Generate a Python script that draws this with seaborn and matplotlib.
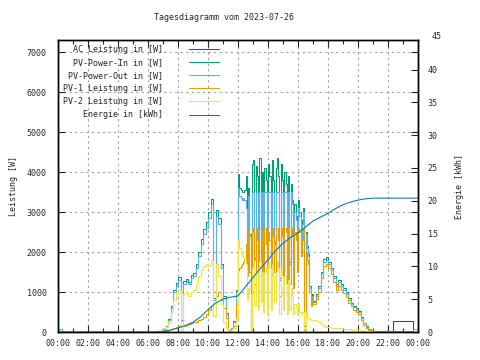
import numpy as np
import pandas as pd
import matplotlib
matplotlib.use("Agg")
import matplotlib.pyplot as plt
import seaborn as sns

# --- Zeitraster in Stunden ---
t_night = [0.0, 0.25]
t_morning = np.arange(6.0, 12.0 - 1e-9, 10 / 60)    # 06:00 .. 11:50
t_midday = np.arange(12.0, 17.0 - 1e-9, 5 / 60)     # 12:00 .. 16:55
t_evening = np.arange(17.0, 24.0 - 1e-9, 10 / 60)   # 17:00 .. 23:50
t_end = [24.0]

# --- AC Leistung [W] ---
ac_night = [70, 0]
ac_morning = [0, 0, 10, 20, 30, 50, 80, 150, 300, 600, 1000, 1150,
              1300, 300, 1200, 1250, 1200, 1350, 1400, 1600, 1900, 2200, 2450, 2600,
              2850, 3200, 800, 2900, 2700, 1600, 850, 450, 50, 100, 250, 1000]
ac_midday = [3600, 3400, 3350, 3300, 3350, 3300,
             3100, 2100, 3400, 2400, 0, 3500,
             3500, 1800, 3500, 3500, 1400, 3500,
             2000, 3500, 1250, 3500, 3500, 1100,
             3500, 3500, 1600, 3500, 3500, 2200,
             3500, 3500, 3500, 1300, 3500, 3500,
             1500, 3500, 3500, 1300, 3500, 1700,
             3500, 3200, 1500, 3000, 2800, 1900,
             3100, 2900, 2300, 2700, 3000, 150,
             2450, 2100, 1900, 1100, 700, 900]
ac_evening = [750, 900, 1100, 1450, 1750, 1800,
              1700, 1550, 1350, 1150, 1250, 1150,
              1050, 950, 800, 700, 620, 560,
              500, 350, 220, 130, 80, 50,
              30, 30, 30, 30, 30, 30,
              30, 30, 270, 270, 270, 270,
              270, 270, 270, 270, 80, 80]
ac_end = [80]

# --- PV-Power-In [W] ---
pv_in_night = [0, 0]
pv_in_morning = [0, 0, 10, 20, 30, 55, 85, 160, 320, 640, 1060, 1220,
                 1380, 0, 1270, 1320, 1260, 1420, 1480, 1690, 2000, 2320, 2580, 2740,
                 3000, 3330, 840, 3050, 2840, 1690, 900, 480, 55, 110, 270, 1060]
pv_in_midday = [3950, 3600, 3550, 3500, 3500, 3550,
                3900, 2150, 3600, 2450, 50, 4200,
                4300, 1850, 4150, 3900, 1450, 4350,
                2050, 4000, 1300, 4100, 3800, 1150,
                4200, 3900, 1650, 4300, 3800, 2250,
                4100, 4350, 3900, 1350, 4200, 3800,
                1550, 4000, 3700, 1350, 3900, 1750,
                3700, 3300, 1550, 3200, 2900, 1950,
                3300, 3000, 2350, 2800, 3100, 50,
                2500, 2150, 1950, 1150, 750, 950]
pv_in_evening = [780, 940, 1150, 1500, 1820, 1870,
                 1760, 1600, 1400, 1200, 1300, 1200,
                 1100, 990, 840, 730, 650, 590,
                 520, 370, 235, 140, 85, 50,
                 0, 0, 0, 0, 0, 0, 0, 0, 0, 0, 0, 0, 0, 0, 0, 0, 0, 0]
pv_in_end = [0]

# --- PV-Power-Out [W] ---
pv_out_night = [70, 0]
pv_out_morning = [0, 0, 10, 20, 30, 50, 80, 150, 300, 600, 1000, 1150,
                  1300, 0, 1200, 1250, 1200, 1350, 1400, 1600, 1900, 2200, 2450, 2600,
                  2850, 3200, 800, 2900, 2700, 1600, 850, 450, 50, 100, 250, 1000]
pv_out_midday = [3600, 3400, 3350, 3300, 3350, 3300,
                 3100, 2100, 3400, 2400, 0, 3500,
                 3500, 1800, 3500, 3500, 1400, 3500,
                 2000, 3500, 1250, 3500, 3500, 1100,
                 3500, 3500, 1600, 3500, 3500, 2200,
                 3500, 3500, 3500, 1300, 3500, 3500,
                 1500, 3500, 3500, 1300, 3500, 1700,
                 3500, 3200, 1500, 3000, 2800, 1900,
                 3100, 2900, 2300, 2700, 3000, 0,
                 2450, 2100, 1900, 1100, 700, 900]
pv_out_evening = [750, 900, 1100, 1450, 1750, 1800,
                  1700, 1550, 1350, 1150, 1250, 1150,
                  1050, 950, 800, 700, 620, 560,
                  500, 350, 220, 130, 80, 50,
                  30, 30, 30, 30, 30, 30,
                  30, 30, 30, 30, 30, 30,
                  30, 30, 30, 30, 80, 80]
pv_out_end = [80]

# --- PV-1 Leistung [W] ---
pv1_night = [0, 0]
pv1_morning = [0, 0, 0, 5, 10, 15, 25, 35, 50, 70, 100, 120,
               140, 0, 160, 180, 200, 220, 240, 260, 290, 330, 380, 450,
               550, 650, 400, 900, 1000, 800, 600, 350, 30, 50, 150, 700]
pv1_midday = [1550, 1600, 1650, 1700, 1750, 1800,
              2200, 1400, 2500, 1500, 30, 2600,
              2500, 1200, 2600, 2300, 900, 2600,
              1300, 2500, 800, 2600, 2200, 700,
              2500, 2300, 1100, 2600, 2400, 1500,
              2600, 2600, 2300, 900, 2600, 2400,
              1000, 2600, 2500, 900, 2600, 1200,
              2600, 2400, 1100, 2500, 2300, 1500,
              2600, 2500, 1900, 2300, 2600, 30,
              2000, 1800, 1700, 1000, 650, 850]
pv1_evening = [700, 820, 1000, 1350, 1650, 1700,
               1600, 1450, 1250, 1050, 1150, 1050,
               970, 870, 730, 640, 560, 500,
               440, 300, 180, 90, 40, 10,
               0, 0, 0, 0, 0, 0, 0, 0, 0, 0, 0, 0, 0, 0, 0, 0, 0, 0]
pv1_end = [0]

# --- PV-2 Leistung [W] ---
pv2_night = [0, 0]
pv2_morning = [0, 0, 10, 15, 20, 40, 60, 120, 250, 500, 800, 950,
               1050, 0, 950, 1000, 900, 1000, 1050, 1200, 1400, 1550, 1650, 1700,
               1650, 1800, 400, 1700, 1400, 700, 250, 100, 20, 60, 100, 350]
pv2_midday = [2300, 2100, 2000, 1900, 1850, 1800,
              1700, 800, 1100, 950, 20, 1600,
              1800, 650, 1500, 1600, 550, 1750,
              750, 1500, 500, 1500, 1600, 450,
              1700, 1600, 550, 1700, 1400, 750,
              1500, 1750, 1600, 450, 1600, 1400,
              550, 1400, 1200, 450, 1300, 550,
              1100, 900, 450, 700, 600, 450,
              700, 500, 450, 500, 500, 20,
              500, 400, 350, 320, 300, 300]
pv2_evening = [300, 280, 250, 200, 160, 130,
               120, 110, 100, 95, 90, 85,
               80, 75, 65, 55, 50, 45,
               40, 30, 20, 10, 5, 0,
               0, 0, 0, 0, 0, 0, 0, 0, 0, 0, 0, 0, 0, 0, 0, 0, 0, 0]
pv2_end = [0]

# --- Energie [kWh] ---
energy_t = [0, 6.5, 7, 7.5, 8, 8.5, 9, 9.5, 10, 10.5, 11, 11.5, 12, 12.5, 13, 13.5,
            14, 14.5, 15, 15.5, 16, 16.5, 17, 17.5, 18, 18.5, 19, 19.5, 20, 20.5, 21, 24]
energy_kwh = [0, 0, 0.1, 0.3, 0.6, 1.0, 1.5, 2.3, 3.4, 4.4, 5.0, 5.3, 5.5, 6.9, 8.3, 9.7,
              11.0, 12.4, 13.5, 14.4, 15.1, 16.0, 16.9, 17.5, 18.1, 18.8, 19.4, 19.8, 20.1, 20.3, 20.4, 20.4]

x_tick_labels = ["00:00", "02:00", "04:00", "06:00", "08:00", "10:00", "12:00",
                 "14:00", "16:00", "18:00", "20:00", "22:00", "00:00"]

zeit = np.concatenate([t_night, t_morning, t_midday, t_evening, t_end])
df = pd.DataFrame({
    "zeit": zeit,
    "ac": ac_night + ac_morning + ac_midday + ac_evening + ac_end,
    "pv_in": pv_in_night + pv_in_morning + pv_in_midday + pv_in_evening + pv_in_end,
    "pv_out": pv_out_night + pv_out_morning + pv_out_midday + pv_out_evening + pv_out_end,
    "pv1": pv1_night + pv1_morning + pv1_midday + pv1_evening + pv1_end,
    "pv2": pv2_night + pv2_morning + pv2_midday + pv2_evening + pv2_end,
})
df_energie = pd.DataFrame({"zeit": energy_t, "kwh": energy_kwh})

serien = [
    ("ac", "AC Leistung in [W]", "#9400d3"),
    ("pv_in", "PV-Power-In in [W]", "#009e73"),
    ("pv_out", "PV-Power-Out in [W]", "#56b4e9"),
    ("pv1", "PV-1 Leistung in [W]", "#e69f00"),
    ("pv2", "PV-2 Leistung in [W]", "#f0e442"),
]

sns.set_style("ticks")
plt.rcParams["font.family"] = ["DejaVu Sans Mono"]
plt.rcParams["font.size"] = 6.0

fig = plt.figure(figsize=(4.8, 3.6), dpi=100)
ax = fig.add_axes([58 / 480, 28 / 360, 360 / 480, 292 / 360])
ax2 = ax.twinx()

for spalte, name, farbe in serien:
    sns.lineplot(data=df, x="zeit", y=spalte, ax=ax, color=farbe, lw=0.75,
                 drawstyle="steps-post", label=name.rjust(20), legend=False)
sns.lineplot(data=df_energie, x="zeit", y="kwh", ax=ax2, color="#0072b2", lw=0.75,
             label="Energie in [kWh]".rjust(20), legend=False)

ax.set_xlim(0, 24)
ax.set_ylim(0, 7300)
ax2.set_ylim(0, 44.5)
ax.set_xticks(range(0, 25, 2))
ax.set_xticklabels(x_tick_labels)
ax.set_xticks(range(0, 25), minor=True)
ax.set_yticks(range(0, 7001, 1000))
ax2.set_yticks(range(0, 41, 5))
ax.set_xlabel("")
ax.set_ylabel("")
ax2.set_ylabel("")

ax.tick_params(axis="x", which="major", direction="in", top=True, length=5, pad=5, width=0.8)
ax.tick_params(axis="x", which="minor", direction="in", top=True, length=3, width=0.8)
ax.tick_params(axis="y", direction="in", left=True, right=True, length=5, pad=8, width=0.8)
ax2.tick_params(axis="y", direction="in", length=5, pad=7, width=0.8)
ax2.annotate("45", xy=(1, 45), xycoords=("axes fraction", "data"), xytext=(10, 0),
             textcoords="offset points", ha="left", va="center", annotation_clip=False)

ax.grid(True, which="major", color="#a0a0a0", linestyle=(0, (2, 3)), lw=0.8)
for a in (ax, ax2):
    for s in a.spines.values():
        s.set_visible(True)
        s.set_color("black")
        s.set_linewidth(1.0)

handles = ax.get_lines()[:5] + ax2.get_lines()[:1]
labels = [h.get_label() for h in handles]
ax2.legend(handles, labels, loc="upper left", bbox_to_anchor=(0.0, 1.0), frameon=False,
           markerfirst=False, handlelength=3.6, handletextpad=3.2, labelspacing=0.5,
           borderaxespad=0.3, borderpad=0.25)

fig.text(224 / 480, 1 - 18 / 360, "Tagesdiagramm vom 2023-07-26", ha="center", va="center")
fig.text(13 / 480, 1 - 186 / 360, "Leistung [W]", rotation=90, ha="center", va="center")
fig.text(460 / 480, 1 - 186 / 360, "Energie [kWh]", rotation=90, ha="center", va="center")

fig.savefig("out.png", dpi=100)
